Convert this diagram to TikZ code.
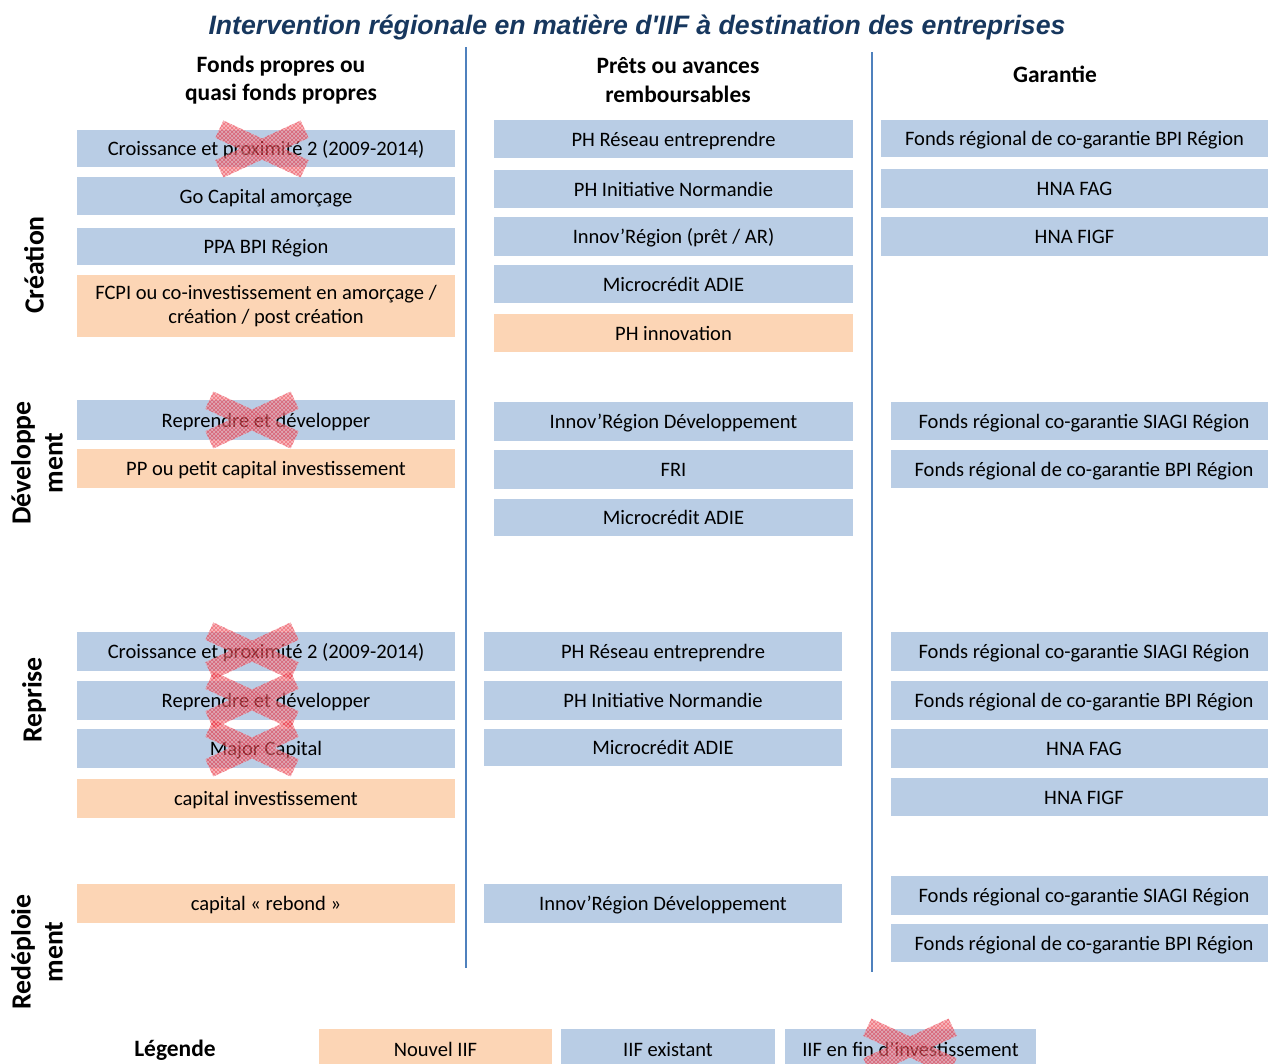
\documentclass[tikz,border=0pt]{standalone}
\usepackage{fontspec}
\setmainfont{Carlito}
\newfontfamily\titlefont{Liberation Sans}
\usetikzlibrary{patterns}
\definecolor{bbox}{RGB}{185,205,229}
\definecolor{obox}{RGB}{252,213,181}
\definecolor{vline}{RGB}{79,129,189}
\definecolor{ttl}{RGB}{23,55,94}
\definecolor{xred}{RGB}{232,40,55}
\tikzset{
  box/.style={draw=none,inner sep=0pt,align=center,font=\fontsize{15.4}{18}\selectfont},
  oneline/.style={text height=14pt,text depth=3.5pt},
  head/.style={align=center,font=\fontsize{17.6}{21.5}\selectfont\bfseries},
  side/.style={align=center,rotate=90,font=\fontsize{20.8}{24}\selectfont\bfseries},
  sep/.style={draw=vline,line width=2.2pt},
  armfill/.style={fill=xred!50},
  armhatch/.style={pattern=crosshatch,pattern color=xred}
}
\newcommand\bx[7]{\node[box,oneline,fill=#6,minimum width={(#4-#2)*0.75pt},minimum height={(#5-#3)*0.75pt}] (#1) at ({(#2+#4)/2},{-(#3+#5)/2}) {#7};}
\newcommand\xcross[2]{%
  \begin{scope}[transparency group,opacity=0.65]
    \fill[armfill,rotate around={-25:(#1,-#2)}] (#1-47,-#2-9.5) rectangle (#1+47,-#2+9.5);
    \fill[armfill,rotate around={25:(#1,-#2)}] (#1-47,-#2-9.5) rectangle (#1+47,-#2+9.5);
    \fill[armhatch,rotate around={-25:(#1,-#2)}] (#1-47,-#2-9.5) rectangle (#1+47,-#2+9.5);
    \fill[armhatch,rotate around={25:(#1,-#2)}] (#1-47,-#2-9.5) rectangle (#1+47,-#2+9.5);
  \end{scope}}
\begin{document}
\begin{tikzpicture}[x=0.75pt,y=0.75pt]
\useasboundingbox (0,0) rectangle (1268,-1064);
\clip (0,0) rectangle (1268,-1064);
% title
\node[font=\titlefont\fontsize{20}{24}\selectfont\bfseries\itshape,text=ttl] (title) at (637,-27) {Intervention régionale en matière d'IIF à destination des entreprises};
% headers
\node[head] (h1) at (281,-80) {Fonds propres ou\\quasi fonds propres};
\node[head] (h2) at (678,-80) {Prêts ou avances\\remboursables};
\node[head] (h3) at (1055,-74) {Garantie};
% side labels
\node[side] (s1) at (34,-265) {Création};
\node[side] (s2) at (37,-463) {Développe\\ment};
\node[side] (s3) at (34,-700) {Reprise};
\node[side] (s4) at (37,-952) {Redéploie\\ment};
% separators
\coordinate (l1t) at (466,-47); \coordinate (l1b) at (466,-968);
\coordinate (l2t) at (872,-52); \coordinate (l2b) at (872,-972);
\draw[sep] (l1t) -- (l1b);
\draw[sep] (l2t) -- (l2b);
% column 1
\bx{a1}{77}{130}{455}{167}{bbox}{Croissance et proximité 2 (2009-2014)}
\bx{a2}{77}{177}{455}{215}{bbox}{Go Capital amorçage}
\bx{a3}{77}{228}{455}{265}{bbox}{PPA BPI Région}
\node[box,fill=obox,minimum width={378*0.75pt},minimum height={62*0.75pt}] (a4) at (266,-306) {FCPI ou co-investissement en amorçage /\\création / post création};
\bx{a5}{77}{400}{455}{440}{bbox}{Reprendre et développer}
\bx{a6}{77}{449}{455}{488}{obox}{PP ou petit capital investissement}
\bx{a7}{77}{632}{455}{671}{bbox}{Croissance et proximité 2 (2009-2014)}
\bx{a8}{77}{681}{455}{720}{bbox}{Reprendre et développer}
\bx{a9}{77}{729}{455}{768}{bbox}{Major Capital}
\bx{a10}{77}{779}{455}{818}{obox}{capital investissement}
\bx{a11}{77}{884}{455}{923}{obox}{capital « rebond »}
% column 2
\bx{b1}{494}{120}{853}{158}{bbox}{PH Réseau entreprendre}
\bx{b2}{494}{170}{853}{208}{bbox}{PH Initiative Normandie}
\bx{b3}{494}{217}{853}{256}{bbox}{Innov’Région (prêt / AR)}
\bx{b4}{494}{265}{853}{303}{bbox}{Microcrédit ADIE}
\bx{b5}{494}{314}{853}{352}{obox}{PH innovation}
\bx{b6}{494}{402}{853}{441}{bbox}{Innov’Région Développement}
\bx{b7}{494}{450}{853}{489}{bbox}{FRI}
\bx{b8}{494}{499}{853}{536}{bbox}{Microcrédit ADIE}
\bx{b9}{484}{632}{842}{671}{bbox}{PH Réseau entreprendre}
\bx{b10}{484}{681}{842}{720}{bbox}{PH Initiative Normandie}
\bx{b11}{484}{729}{842}{766}{bbox}{Microcrédit ADIE}
\bx{b12}{484}{884}{842}{923}{bbox}{Innov’Région Développement}
% column 3
\bx{c1}{881}{120}{1268}{157}{bbox}{Fonds régional de co-garantie BPI Région}
\bx{c2}{881}{169}{1268}{208}{bbox}{HNA FAG}
\bx{c3}{881}{217}{1268}{256}{bbox}{HNA FIGF}
\bx{c4}{891}{402}{1277}{440}{bbox}{Fonds régional co-garantie SIAGI Région}
\bx{c5}{891}{450}{1277}{488}{bbox}{Fonds régional de co-garantie BPI Région}
\bx{c6}{891}{632}{1277}{671}{bbox}{Fonds régional co-garantie SIAGI Région}
\bx{c7}{891}{681}{1277}{720}{bbox}{Fonds régional de co-garantie BPI Région}
\bx{c8}{891}{729}{1277}{768}{bbox}{HNA FAG}
\bx{c9}{891}{778}{1277}{816}{bbox}{HNA FIGF}
\bx{c10}{891}{876}{1277}{915}{bbox}{Fonds régional co-garantie SIAGI Région}
\bx{c11}{891}{924}{1277}{962}{bbox}{Fonds régional de co-garantie BPI Région}
% legend
\node[head] (leg) at (175,-1050) {Légende};
\bx{g1}{319}{1029}{552}{1069}{obox}{Nouvel IIF}
\bx{g2}{561}{1029}{775}{1069}{bbox}{IIF existant}
\bx{g3}{785}{1029}{1036}{1069}{bbox}{IIF en fin d’investissement}
% crosses
\xcross{262}{149}
\xcross{252}{420}
\xcross{252}{651}
\xcross{252}{700}
\xcross{252}{748}
\xcross{910}{1047}
\end{tikzpicture}
\end{document}
